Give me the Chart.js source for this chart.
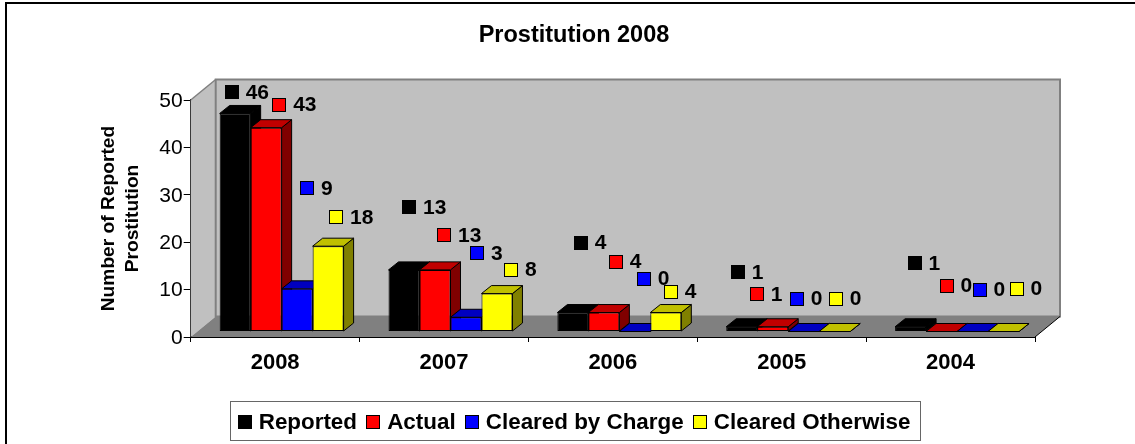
<!DOCTYPE html>
<html><head><meta charset="utf-8">
<style>html,body{margin:0;padding:0;background:#fff;overflow:hidden;width:1135px;height:444px}canvas{display:block}</style>
<script src="https://cdn.jsdelivr.net/npm/chart.js@4"></script>
</head><body><canvas id="c" width="1148" height="444" style="width:1148px;height:444px"></canvas>
<script>
const categories = ['2008','2007','2006','2005','2004'];
const reported = [46,13,4,1,1];
const actual = [43,13,4,1,0];
const clearedByCharge = [9,3,0,0,0];
const clearedOtherwise = [18,8,4,0,0];
const yTicks = [0,10,20,30,40,50];

// hand-placed label nudges (px from the bar's top centre), as in the source chart
const nudge = [
  [[-3.5,-21],[5,-63],[8,-70],[-4,-55],[4,-64]],
  [[13,-23],[9,-35],[12,-51],[-16,-33],[5,-46]],
  [[10,-101],[11,-64],[9,-53],[-7,-33],[7,-42]],
  [[8,-29],[14,-24],[5,-21],[1,-33],[13,-43]]
];
const FONT = '"Liberation Sans", Arial, sans-serif';
const WALL = {dx:25, dy:20.5}, BAR = {dx:10, dy:8}, SHIFT = {x:6.5, y:-5.5};
const shades = {
  '#000000':['#000000','#000000'],
  '#ff0000':['#c00000','#800000'],
  '#0000ff':['#0000c0','#000080'],
  '#ffff00':['#c0c000','#808000']
};
function poly(ctx, pts, fill, stroke, lw){
  ctx.beginPath();
  pts.forEach((p,i)=> i?ctx.lineTo(p[0],p[1]):ctx.moveTo(p[0],p[1]));
  ctx.closePath();
  if(fill){ctx.fillStyle=fill;ctx.fill();}
  if(stroke){ctx.strokeStyle=stroke;ctx.lineWidth=lw||1;ctx.stroke();}
}
const scene = {
  id:'scene',
  beforeDatasetsDraw(chart){
    const {ctx, chartArea:a} = chart, d=WALL;
    ctx.save();
    // frame (right and bottom run off the page)
    ctx.strokeStyle='#000';ctx.lineWidth=2;ctx.strokeRect(6,3,1300,800);
    // legend box and keys
    const hb = chart.legend.legendHitBoxes;
    const lx = Math.min(...hb.map(h=>h.left))-8, rx = Math.max(...hb.map(h=>h.left+h.width))+9;
    ctx.strokeStyle='#666';ctx.lineWidth=1;
    ctx.strokeRect(Math.round(lx)+.5, Math.round(chart.legend.top-1.6)+.5, Math.round(rx-lx), 39);
    hb.forEach((h,i)=>{
      const y=Math.round(h.top+h.height/2-1-7), x=Math.round(h.left);
      ctx.fillStyle=chart.data.datasets[i].backgroundColor;
      ctx.fillRect(x,y,14,14);
      ctx.strokeStyle='#000';ctx.strokeRect(x+.5,y+.5,13,13);
    });
    // walls
    poly(ctx,[[a.left,a.top],[a.left+d.dx,a.top-d.dy],[a.left+d.dx,a.bottom-d.dy],[a.left,a.bottom]],'#c0c0c0');
    poly(ctx,[[a.left+d.dx,a.top-d.dy],[a.right+d.dx,a.top-d.dy],[a.right+d.dx,a.bottom-d.dy],[a.left+d.dx,a.bottom-d.dy]],'#c0c0c0','#808080',2);
    poly(ctx,[[a.left,a.bottom],[a.left+d.dx,a.bottom-d.dy],[a.right+d.dx,a.bottom-d.dy],[a.right,a.bottom]],'#808080');
    ctx.strokeStyle='#808080';ctx.lineWidth=1.5;
    ctx.beginPath();ctx.moveTo(a.left,a.top);ctx.lineTo(a.left+d.dx,a.top-d.dy);ctx.stroke();
    ctx.strokeStyle='#000';ctx.lineWidth=1;
    ctx.beginPath();ctx.moveTo(a.right,a.bottom);ctx.lineTo(a.right+d.dx,a.bottom-d.dy);ctx.stroke();

    // bars, first series first, so each bar's front covers its left neighbour's side
    chart.data.datasets.forEach((ds,di)=>{
      const meta=chart.getDatasetMeta(di), b=BAR, [top,side]=shades[ds.backgroundColor];
      ctx.save();
      ctx.translate(SHIFT.x,SHIFT.y);
      ctx.lineJoin='round';
      meta.data.forEach(el=>{
        const p=el.getProps(['x','y','base','width'],true);
        const l=p.x-p.width/2, r=p.x+p.width/2;
        poly(ctx,[[r,p.base],[r+b.dx,p.base-b.dy],[r+b.dx,p.y-b.dy],[r,p.y]],side,'#000',1);
        poly(ctx,[[l,p.y],[l+b.dx,p.y-b.dy],[r+b.dx,p.y-b.dy],[r,p.y]],top,'#000',1);
      });
      meta.controller.draw();
      ctx.restore();
    });

    // data labels with legend keys
    chart.data.datasets.forEach((ds,di)=>{
      chart.getDatasetMeta(di).data.forEach((el,i)=>{
        const p=el.getProps(['x','y'],true), n=nudge[di][i];
        const cx=p.x+SHIFT.x+n[0], cy=p.y+SHIFT.y+n[1];
        ctx.fillStyle=ds.backgroundColor;ctx.strokeStyle='#000';ctx.lineWidth=1;
        ctx.fillRect(Math.round(cx-7),Math.round(cy-7),14,14);
        ctx.strokeRect(Math.round(cx-7)+.5,Math.round(cy-7)+.5,13,13);
        ctx.fillStyle='#000';ctx.font='bold 21px '+FONT;ctx.textBaseline='middle';ctx.textAlign='left';
        ctx.fillText(String(ds.data[i]),cx+14,cy+1);
      });
    });
    ctx.restore();
    return false;
  }
};
const mk=(label,data,color)=>({label,data,backgroundColor:color,borderColor:'#000000',borderWidth:1,borderSkipped:false,clip:false,
  barPercentage:1,categoryPercentage:0.734});
new Chart(document.getElementById('c'),{
  type:'bar',
  data:{labels:categories,datasets:[
    mk('Reported',reported,'#000000'),
    mk('Actual',actual,'#ff0000'),
    mk('Cleared by Charge',clearedByCharge,'#0000ff'),
    mk('Cleared Otherwise',clearedOtherwise,'#ffff00')
  ]},
  options:{
    responsive:false,animation:false,
    plugins:{
      tooltip:{enabled:false},
      title:{display:true,text:'Prostitution 2008',color:'#000',font:{family:FONT,size:23.5,weight:'bold'},padding:{top:21,bottom:50.8}},
      legend:{position:'bottom',labels:{color:'#000',boxWidth:10,boxHeight:10,padding:9,font:{family:FONT,size:22.4,weight:'bold'},
        generateLabels(c){return Chart.defaults.plugins.legend.labels.generateLabels(c).map(l=>({...l,fillStyle:'rgba(0,0,0,0)',strokeStyle:'rgba(0,0,0,0)',lineWidth:0}));}}}
    },
    scales:{
      x:{grid:{drawOnChartArea:false,drawTicks:true,tickLength:5,color:'#000'},border:{color:'#000',width:2},
        ticks:{color:'#000',padding:8,font:{family:FONT,size:22,weight:'bold'},maxRotation:0},
        afterFit(s){s.height=65.6;}},
      y:{min:0,max:50,grid:{drawOnChartArea:false,tickLength:7,color:'#000'},border:{color:'#000',width:1.5},
        afterBuildTicks(s){s.ticks=yTicks.map(v=>({value:v}));},
        ticks:{color:'#000',padding:1,labelOffset:1,font:{family:FONT,size:21}},
        title:{display:true,text:['Number of Reported','Prostitution'],color:'#000',font:{family:FONT,size:19.2,weight:'bold',lineHeight:1.28},padding:{top:96,bottom:0}},
        afterFit(s){s.width=190.7;}},
      pad:{type:'linear',position:'right',axis:'y',display:true,grid:{display:false},border:{display:false},ticks:{display:false},
        afterFit(s){s.width=113;}}
    }
  },
  plugins:[scene]
});
</script></body></html>
